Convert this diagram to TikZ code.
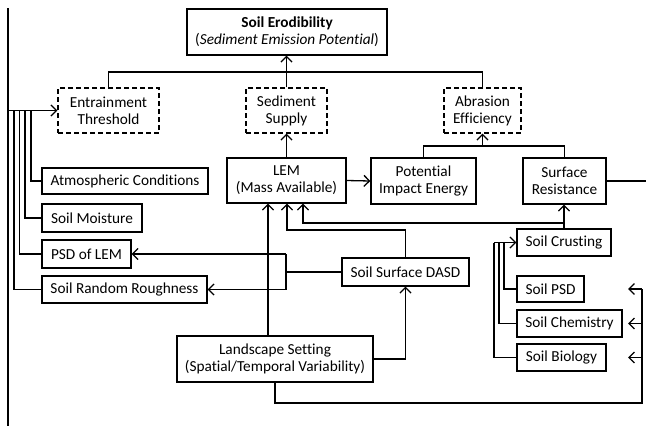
\documentclass[tikz,border=0pt]{standalone}
\usepackage{fontspec}
\setmainfont{Carlito}[Ligatures={NoCommon}]
\usetikzlibrary{arrows.meta}
\tikzset{
  bx/.style={draw, line width=1.3pt, inner sep=0pt, align=center, fill=white,
    font=\fontsize{15.3}{17}\selectfont},
  dbx/.style={bx, dash pattern=on 5pt off 3pt},
  ln/.style={line width=1.3pt},
  arr/.style={ln, -{Straight Barb[length=5.5pt,width=11pt]}},
}
\begin{document}
\begin{tikzpicture}[x=1pt,y=-1pt]
\useasboundingbox[fill=white] (0,0) rectangle (646,426);
% nodes
\node[bx, minimum width=200pt, minimum height=46pt] (top) at (287,32) {\textbf{Soil Erodibility}\\(\textit{Sediment Emission Potential})};
\node[dbx, minimum width=101pt, minimum height=45pt] (ET) at (108.5,110.5) {Entrainment\\Threshold};
\node[dbx, minimum width=81pt, minimum height=45pt] (SS) at (286.5,110.5) {Sediment\\Supply};
\node[dbx, minimum width=77pt, minimum height=45pt] (AE) at (482.5,110.5) {Abrasion\\Efficiency};
\node[bx, minimum width=119pt, minimum height=45pt] (LEM) at (286.5,180.5) {LEM\\(Mass Available)};
\node[bx, minimum width=105pt, minimum height=46pt] (PIE) at (423.5,181) {Potential\\Impact Energy};
\node[bx, minimum width=83pt, minimum height=46pt] (SR) at (564.5,181) {Surface\\Resistance};
\node[bx, minimum width=166pt, minimum height=26pt] (AC) at (125,181) {Atmospheric Conditions};
\node[bx, minimum width=100pt, minimum height=28pt] (SM) at (92,218) {Soil Moisture};
\node[bx, minimum width=89pt, minimum height=28pt] (PSDLEM) at (86.5,254) {PSD of LEM};
\node[bx, minimum width=165pt, minimum height=27pt] (SRR) at (124.5,289.5) {Soil Random Roughness};
\node[bx, minimum width=127pt, minimum height=28pt] (DASD) at (405.5,272) {Soil Surface DASD};
\node[bx, minimum width=196pt, minimum height=46pt] (LS) at (275,359) {Landscape Setting\\(Spatial/Temporal Variability)};
\node[bx, minimum width=94pt, minimum height=27pt] (SC) at (564,242.5) {Soil Crusting};
\node[bx, minimum width=67pt, minimum height=26pt] (SPSD) at (550.5,289) {Soil PSD};
\node[bx, minimum width=105pt, minimum height=27pt] (SChem) at (569.5,323.5) {Soil Chemistry};
\node[bx, minimum width=89pt, minimum height=27pt] (SBio) at (561.5,357.5) {Soil Biology};
% helper coordinates
\coordinate (bar) at (0,72);
\coordinate (ab) at (0,146);
\coordinate (rEdge) at (646,0);
\coordinate (b1) at (303,223);
\coordinate (b2) at (287,230);
\coordinate (b3) at (268,0);
\coordinate (b4) at (286,0);
\coordinate (b5) at (275,403);
\coordinate (b6) at (642,0);
\coordinate (b7) at (628,0);
\coordinate (c1) at (494,0);
\coordinate (c2) at (499,0);
\coordinate (c3) at (504,0);
\coordinate (L0) at (8,8);
\coordinate (L0b) at (8,426);
\coordinate (l1) at (14,0);
\coordinate (l2) at (19.5,0);
\coordinate (l3) at (25,0);
\coordinate (l4) at (31,0);
% top level
\draw[ln] (ET.north) |- (AE.north |- bar) -- (AE.north);
\draw[arr] (SS.north) -- (SS.north |- top.south);
\draw[arr] (LEM.north) -- (SS.south);
\draw[arr] (LEM.east) -- (PIE.west);
\draw[ln] (PIE.north) |- (SR.north |- ab) -- (SR.north);
\draw[arr] (AE.south |- ab) -- (AE.south);
\draw[ln] (SR.east) -- (SR.east -| rEdge);
% inputs to SR and LEM
\draw[arr] (SC.north) -- (SC.north |- SR.south);
\draw[arr] (SC.north |- b1) -- (b1) -- (b1 |- LEM.south);
\draw[arr] (DASD.north) |- (b2) -- (b2 |- LEM.south);
\draw[arr] (LS.north -| b3) -- (LEM.south -| b3);
% DASD outputs
\draw[ln] (DASD.west) -- (DASD.west -| b4);
\draw[ln] (b4 |- PSDLEM.east) -- (b4 |- SRR.east);
\draw[arr] (b4 |- PSDLEM.east) -- (PSDLEM.east);
\draw[arr] (b4 |- SRR.east) -- (SRR.east);
\draw[arr] (LS.east) -| (DASD.south);
% landscape loop right
\draw[ln] (LS.south -| b5) |- (b5 -| b6) -- (b6 |- SPSD.east);
\draw[arr] (b6 |- SPSD.east) -- (b7 |- SPSD.east);
\draw[arr] (b6 |- SChem.east) -- (b7 |- SChem.east);
\draw[arr] (b6 |- SBio.east) -- (b7 |- SBio.east);
% soil crusting inputs
\draw[arr] (c1 |- SC.west) -- (SC.west);
\draw[ln] (c1 |- SC.west) |- (SBio.west);
\draw[ln] (c2 |- SC.west) |- (SChem.west);
\draw[ln] (c3 |- SC.west) |- (SPSD.west);
% left bundle
\draw[ln] (L0) -- (L0b);
\draw[arr] (L0 |- ET.west) -- (ET.west);
\draw[ln] (l1 |- ET.west) |- (SRR.west);
\draw[ln] (l2 |- ET.west) |- (PSDLEM.west);
\draw[ln] (l3 |- ET.west) |- (SM.west);
\draw[ln] (l4 |- ET.west) |- (AC.west);
\end{tikzpicture}
\end{document}
